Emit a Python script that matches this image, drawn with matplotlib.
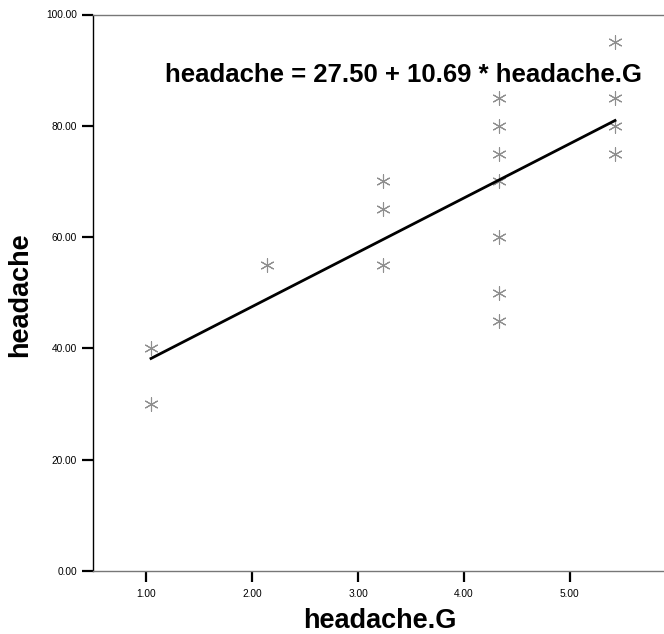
import matplotlib
matplotlib.use("Agg")
import matplotlib.pyplot as plt
import numpy as np

plt.rcParams['font.family'] = ['Liberation Sans', 'DejaVu Sans']

# observed values (headache.G group, headache score)
group_x = [1, 1, 2, 3, 3, 3, 4, 4, 4, 4, 4, 4, 4, 5, 5, 5, 5]
headache_y = [40, 30, 55, 70, 65, 55, 85, 80, 75, 70, 60, 50, 45, 95, 85, 80, 75]

# fitted line as printed on the chart
intercept = 27.50
slope = 10.69

x_tick_labels = ['1.00', '2.00', '3.00', '4.00', '5.00']
y_ticks = [0, 20, 40, 60, 80, 100]

fig = plt.figure(figsize=(6.64, 6.34), dpi=100)
# the plot frame runs past the right edge of the picture, as in the original
ax = fig.add_axes([93 / 664, 63 / 634, 580 / 664, 556.5 / 634])

ax.scatter(group_x, headache_y, marker=(6, 2, 0), s=95, color='#8f8f8f',
           linewidths=0.8, zorder=3)

fit_x = np.array([min(group_x), max(group_x)])
ax.plot(fit_x, intercept + slope * fit_x, color='black', linewidth=2.0, zorder=4)

ax.set_xlim(0.5, 5.5)
ax.set_ylim(0, 100)

# the source chart's x ticks sit slightly left of the data columns
tick_pos = 0.96 + 0.912 * np.arange(len(x_tick_labels))
ax.set_xticks(tick_pos)
ax.set_xticklabels(x_tick_labels)
ax.set_yticks(y_ticks)
ax.set_yticklabels(['%.2f' % v for v in y_ticks])

ax.tick_params(axis='both', direction='out', length=8, width=1.6,
               labelsize=7.3, color='black')
ax.tick_params(axis='x', pad=5)
ax.tick_params(axis='y', pad=3.5)

ax.spines['right'].set_visible(False)
ax.spines['left'].set_color('black')
ax.spines['left'].set_linewidth(1.0)
ax.spines['top'].set_color('#777777')
ax.spines['bottom'].set_color('#777777')
ax.spines['top'].set_linewidth(1.0)
ax.spines['bottom'].set_linewidth(1.0)

fig.text(379.5 / 664, 1 - 621 / 634, 'headache.G', fontsize=19.5,
         fontweight='bold', ha='center', va='center')
fig.text(20 / 664, 1 - 295 / 634, 'headache', fontsize=19.5,
         fontweight='bold', ha='center', va='center', rotation=90)
fig.text(403.5 / 664, 1 - 75 / 634,
         'headache = %.2f + %.2f * headache.G' % (intercept, slope),
         fontsize=18.5, fontweight='bold', ha='center', va='center')

fig.savefig('out.png', dpi=100)
